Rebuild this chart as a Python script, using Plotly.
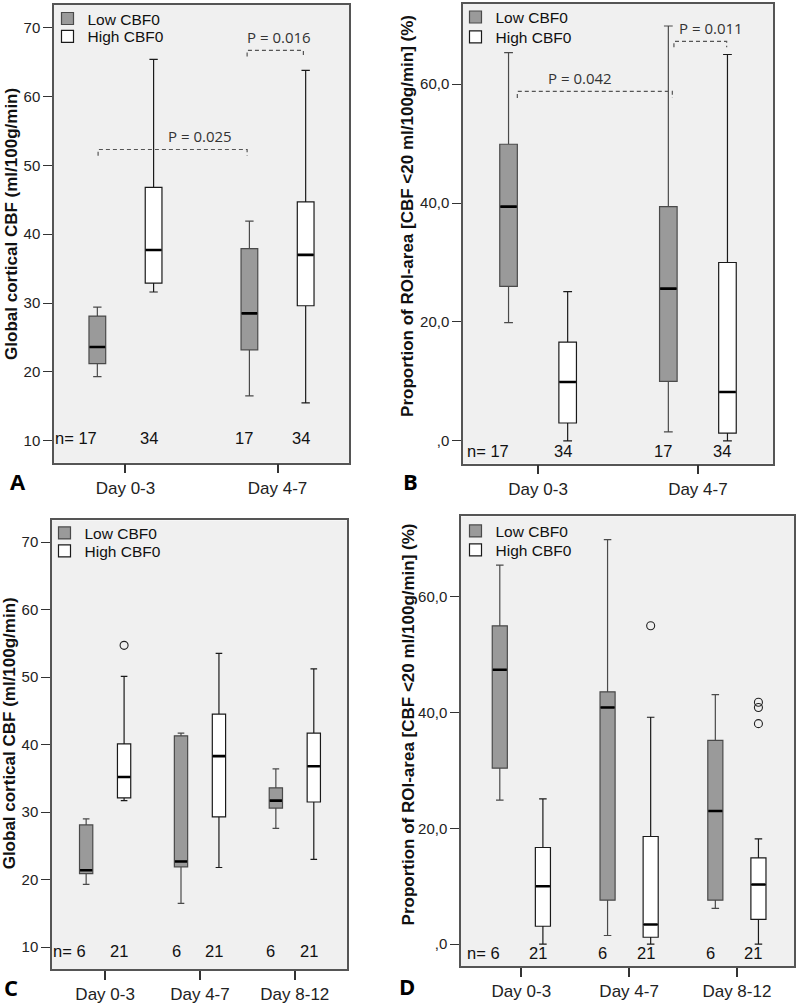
import plotly.graph_objects as go

W, H = 797, 1004

# ---------------- data ----------------
days_AB = ["Day 0-3", "Day 4-7"]
days_CD = ["Day 0-3", "Day 4-7", "Day 8-12"]
low_name = "Low CBF0"
high_name = "High CBF0"

# Panel A: Global cortical CBF (ml/100g/min)
A_low_lo = [19.3, 16.5]
A_low_q1 = [21.2, 23.2]
A_low_med = [23.6, 28.5]
A_low_q3 = [28.1, 37.9]
A_low_hi = [29.4, 41.9]
A_high_lo = [31.6, 15.5]
A_high_q1 = [32.9, 29.6]
A_high_med = [37.7, 37.0]
A_high_q3 = [46.8, 44.7]
A_high_hi = [65.4, 63.8]
A_n_low = [17, 17]
A_n_high = [34, 34]

# Panel B: Proportion of ROI-area [CBF <20] (%)
B_low_lo = [19.9, 1.5]
B_low_q1 = [26.0, 10.0]
B_low_med = [39.4, 25.6]
B_low_q3 = [49.9, 39.4]
B_low_hi = [65.3, 69.8]
B_high_lo = [0.0, 0.0]
B_high_q1 = [3.0, 1.3]
B_high_med = [9.9, 8.2]
B_high_q3 = [16.6, 30.0]
B_high_hi = [25.1, 65.0]
B_n_low = [17, 17]
B_n_high = [34, 34]

# Panel C: Global cortical CBF, three periods
C_low_lo = [19.3, 16.5, 27.6]
C_low_q1 = [20.9, 21.9, 30.6]
C_low_med = [21.4, 22.7, 31.7]
C_low_q3 = [28.1, 41.3, 33.6]
C_low_hi = [29.0, 41.7, 36.4]
C_high_lo = [31.7, 21.8, 23.0]
C_high_q1 = [32.1, 29.3, 31.5]
C_high_med = [35.2, 38.3, 36.8]
C_high_q3 = [40.1, 44.5, 41.7]
C_high_hi = [50.1, 53.5, 51.2]
C_high_out_day = [0]
C_high_out_val = [54.7]
C_n_low = [6, 6, 6]
C_n_high = [21, 21, 21]

# Panel D: Proportion of ROI-area, three periods
D_low_lo = [24.9, 1.5, 6.2]
D_low_q1 = [30.4, 7.6, 7.6]
D_low_med = [47.4, 40.9, 23.0]
D_low_q3 = [55.0, 43.6, 35.2]
D_low_hi = [65.5, 69.9, 43.1]
D_high_lo = [0.0, 0.0, 0.0]
D_high_q1 = [3.1, 1.2, 4.3]
D_high_med = [10.0, 3.4, 10.3]
D_high_q3 = [16.7, 18.6, 14.9]
D_high_hi = [25.1, 39.2, 18.2]
D_high_out_day = [1, 2, 2, 2]
D_high_out_val = [55.0, 41.8, 40.9, 38.1]
D_n_low = [6, 6, 6]
D_n_high = [21, 21, 21]

# significance brackets (x in category units, y in data units)
A_br_x1 = [-0.18, 0.80]
A_br_x2 = [0.80, 1.17]
A_br_y = [52.3, 66.7]
A_br_tick = [0.9, 0.9]
A_br_text = ["P = 0.025", "P = 0.016"]
A_br_tx = [0.49, 1.01]
A_br_ty = [54.2, 68.6]

B_br_x1 = [-0.13, 0.85]
B_br_x2 = [0.84, 1.18]
B_br_y = [58.8, 67.2]
B_br_tick = [1.1, 1.0]
B_br_text = ["P = 0.042", "P = 0.011"]
B_br_tx = [0.26, 1.08]
B_br_ty = [61.1, 69.5]

# ---------------- style ----------------
BG = "#F0F0F0"
LOW_FILL = "#9A9A9A"
LOW_LINE = "#4A4A4A"
HIGH_FILL = "#FFFFFF"
HIGH_LINE = "#1A1A1A"
FRAME = "#555555"
TICKFONT = dict(family="Liberation Sans, Arial, sans-serif", size=15, color="#222")
XTICKFONT = dict(family="Liberation Sans, Arial, sans-serif", size=17, color="#222")
TITLEFONT = dict(family="Liberation Sans, Arial, sans-serif", size=17, color="#111")
LEGFONT = dict(family="Liberation Sans, Arial, sans-serif", size=15.5, color="#111")

panels = [
    dict(letter="A", sfx="", legs=("legend", "legend2"), days=days_AB,
         px=(54, 349), py=(4, 464), xr=(-0.47, 1.47), yr=(6.8, 73.3),
         off=0.185, w=0.11,
         low=(A_low_lo, A_low_q1, A_low_med, A_low_q3, A_low_hi),
         high=(A_high_lo, A_high_q1, A_high_med, A_high_q3, A_high_hi),
         out=None, n=(A_n_low, A_n_high), n_gap=14,
         yt=[10, 20, 30, 40, 50, 60, 70], ytt=["10", "20", "30", "40", "50", "60", "70"],
         title="Global cortical CBF (ml/100g/min)", tpos=(12, 224),
         lx=68.5, ly=(18, 36), letpos=(18, 482),
         br=(A_br_x1, A_br_x2, A_br_y, A_br_tick, A_br_text, A_br_tx, A_br_ty)),
    dict(letter="B", sfx="2", legs=("legend3", "legend4"), days=days_AB,
         px=(463, 773), py=(3, 465), xr=(-0.47, 1.47), yr=(-3.85, 73.5),
         off=0.185, w=0.11,
         low=(B_low_lo, B_low_q1, B_low_med, B_low_q3, B_low_hi),
         high=(B_high_lo, B_high_q1, B_high_med, B_high_q3, B_high_hi),
         out=None, n=(B_n_low, B_n_high), n_gap=2,
         yt=[0, 20, 40, 60], ytt=[",0", "20,0", "40,0", "60,0"],
         title="Proportion of ROI-area [CBF <20 ml/100g/min] (%)", tpos=(408, 216),
         lx=476.5, ly=(16.5, 36.5), letpos=(410, 482),
         br=(B_br_x1, B_br_x2, B_br_y, B_br_tick, B_br_text, B_br_tx, B_br_ty)),
    dict(letter="C", sfx="3", legs=("legend5", "legend6"), days=days_CD,
         px=(52, 347), py=(522, 973), xr=(-0.56, 2.55), yr=(6.75, 73.2),
         off=0.2, w=0.14,
         low=(C_low_lo, C_low_q1, C_low_med, C_low_q3, C_low_hi),
         high=(C_high_lo, C_high_q1, C_high_med, C_high_q3, C_high_hi),
         out=(C_high_out_day, C_high_out_val), n=(C_n_low, C_n_high), n_gap=7,
         yt=[10, 20, 30, 40, 50, 60, 70], ytt=["10", "20", "30", "40", "50", "60", "70"],
         title="Global cortical CBF (ml/100g/min)", tpos=(9, 736),
         lx=65.5, ly=(535, 553), letpos=(11, 991), br=None),
    dict(letter="D", sfx="4", legs=("legend7", "legend8"), days=days_CD,
         px=(461, 794), py=(518, 970), xr=(-0.56, 2.53), yr=(-3.8, 73.9),
         off=0.2, w=0.14,
         low=(D_low_lo, D_low_q1, D_low_med, D_low_q3, D_low_hi),
         high=(D_high_lo, D_high_q1, D_high_med, D_high_q3, D_high_hi),
         out=(D_high_out_day, D_high_out_val), n=(D_n_low, D_n_high), n_gap=2,
         yt=[0, 20, 40, 60], ytt=[",0", "20,0", "40,0", "60,0"],
         title="Proportion of ROI-area [CBF <20 ml/100g/min] (%)", tpos=(408, 727),
         lx=476.5, ly=(533, 552), letpos=(407, 990), br=None),
]

fig = go.Figure()
annotations = []
shapes = []
layout = dict(
    width=W, height=H, margin=dict(l=0, r=0, t=0, b=0),
    paper_bgcolor="white", plot_bgcolor=BG, showlegend=True,
)

for p in panels:
    xa = "x" + p["sfx"]
    ya = "y" + p["sfx"]
    nd = len(p["days"])
    dom_px = p["px"][1] - p["px"][0]
    box_px = p["w"] * dom_px / (p["xr"][1] - p["xr"][0])

    for gi, (grp, sign, fill, line, name) in enumerate(
            (("low", -1, LOW_FILL, LOW_LINE, low_name),
             ("high", 1, HIGH_FILL, HIGH_LINE, high_name))):
        lo, q1, med, q3, hi = p[grp]
        xs = [i + sign * p["off"] for i in range(nd)]
        leg_id = p["legs"][gi]
        fig.add_trace(go.Box(
            x=xs, lowerfence=lo, q1=q1, median=med, q3=q3, upperfence=hi,
            width=p["w"], whiskerwidth=0.5, boxpoints=False,
            fillcolor=fill, line=dict(color=line, width=1.2),
            name=name, legend=leg_id, xaxis=xa, yaxis=ya, hoverinfo="skip",
        ))
        fig.add_trace(go.Scatter(
            x=xs, y=med, mode="markers", showlegend=False, hoverinfo="skip",
            marker=dict(symbol="line-ew", size=(box_px - 1) / 1.41,
                        line=dict(width=2.6, color="#000")),
            xaxis=xa, yaxis=ya,
        ))
        layout[leg_id] = dict(
            x=(p["lx"] - 21) / W, y=1 - p["ly"][gi] / H, xanchor="left", yanchor="middle",
            bgcolor="rgba(0,0,0,0)", borderwidth=0, font=LEGFONT,
            itemclick=False, itemdoubleclick=False,
        )
        # sample sizes
        counts = p["n"][gi]
        for i, c in enumerate(counts):
            first = (grp == "low" and i == 0)
            annotations.append(dict(
                x=xs[i], y=p["n_gap"] / (p["py"][1] - p["py"][0]),
                xref=xa, yref=ya + " domain",
                text=("n= %d" % c) if first else str(c),
                showarrow=False, xanchor="right" if first else "center",
                yanchor="bottom", xshift=2 if first else -5,
                font=dict(family="Liberation Sans, Arial, sans-serif", size=16.5, color="#111"),
            ))

    if p["out"] is not None:
        od, ov = p["out"]
        fig.add_trace(go.Scatter(
            x=[d + p["off"] for d in od], y=ov, mode="markers", showlegend=False,
            hoverinfo="skip", xaxis=xa, yaxis=ya,
            marker=dict(symbol="circle-open", size=8, color="#222", line=dict(width=1.1)),
        ))

    if p["br"] is not None:
        bx1, bx2, by, bt, btxt, btx, bty = p["br"]
        for k in range(len(bx1)):
            shapes.append(dict(
                type="path", xref=xa, yref=ya,
                path="M %f,%f L %f,%f L %f,%f L %f,%f" % (
                    bx1[k], by[k] - bt[k], bx1[k], by[k], bx2[k], by[k], bx2[k], by[k] - bt[k]),
                line=dict(color="#555", width=1.2, dash="4px,3px"),
            ))
            annotations.append(dict(
                x=btx[k], y=bty[k], xref=xa, yref=ya, text=btxt[k], showarrow=False,
                font=dict(family="Open Sans, sans-serif", size=15, color="#333"),
            ))

    layout["xaxis" + p["sfx"]] = dict(
        domain=[p["px"][0] / W, p["px"][1] / W], range=list(p["xr"]), anchor=ya,
        tickvals=list(range(nd)), ticktext=p["days"], ticks="outside", ticklen=9,
        tickcolor="#333", tickwidth=1.5, tickfont=XTICKFONT,
        showline=True, mirror=True, linecolor=FRAME, linewidth=1.5,
        showgrid=False, zeroline=False, fixedrange=True,
    )
    layout["yaxis" + p["sfx"]] = dict(
        domain=[1 - p["py"][1] / H, 1 - p["py"][0] / H], range=list(p["yr"]), anchor=xa,
        tickvals=p["yt"], ticktext=p["ytt"], ticks="outside", ticklen=9,
        tickcolor="#333", tickwidth=1.2, tickfont=TICKFONT,
        showline=True, mirror=True, linecolor=FRAME, linewidth=1.5,
        showgrid=False, zeroline=False, fixedrange=True,
    )
    annotations.append(dict(
        x=p["tpos"][0] / W, y=1 - p["tpos"][1] / H, xref="paper", yref="paper",
        text="<b>%s</b>" % p["title"], textangle=-90, showarrow=False,
        xanchor="center", yanchor="middle", font=TITLEFONT,
    ))
    annotations.append(dict(
        x=p["letpos"][0] / W, y=1 - p["letpos"][1] / H, xref="paper", yref="paper",
        text="<b>%s</b>" % p["letter"], showarrow=False,
        xanchor="center", yanchor="middle",
        font=dict(family="Open Sans, sans-serif", size=22, color="#000"),
    ))

layout["annotations"] = annotations
layout["shapes"] = shapes
fig.update_layout(**layout)

fig.write_html("out.html", config={"displayModeBar": False},
               post_script="document.body.style.margin='0';")
